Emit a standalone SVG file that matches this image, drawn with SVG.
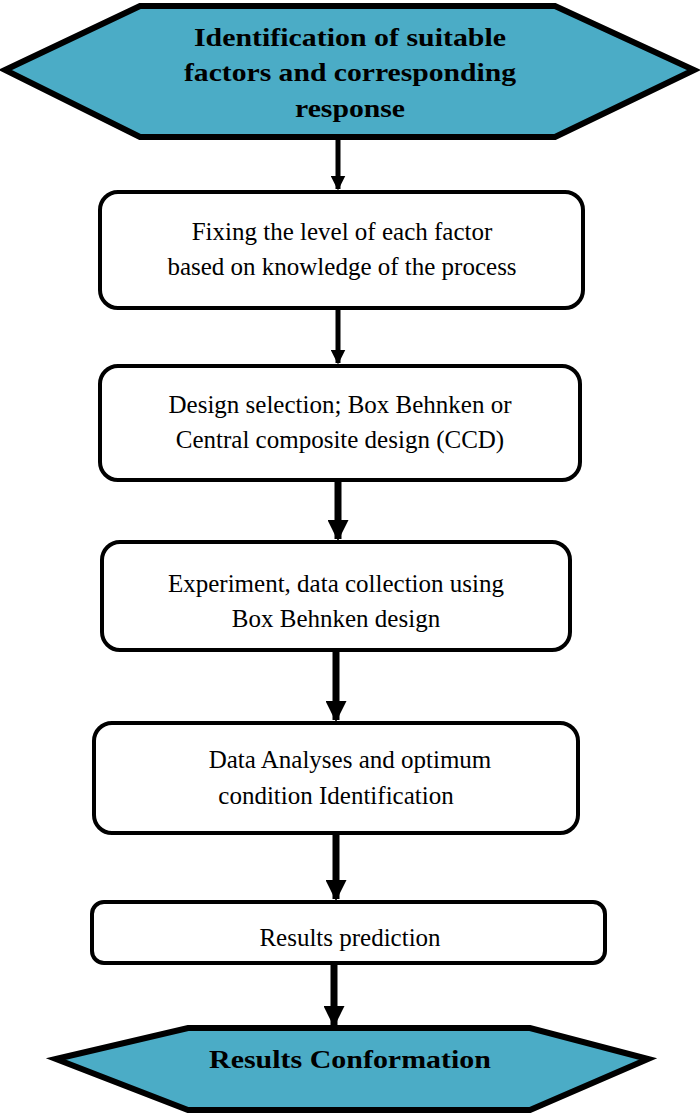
<svg xmlns="http://www.w3.org/2000/svg" width="700" height="1116" viewBox="0 0 700 1116">
<style>
.hex{fill:#4BACC6;stroke:#000;stroke-width:6;stroke-linejoin:miter}
.box{fill:#fff;stroke:#000;stroke-width:4}
.t{font-family:"Liberation Serif",serif;font-size:25px;text-anchor:middle;fill:#000}
.b{font-weight:bold;font-size:26px}
.c{stroke:#000;fill:none}
</style>
<defs><marker id="a" viewBox="0 0 10 10" refX="9" refY="5" markerWidth="3" markerHeight="3" orient="auto" markerUnits="strokeWidth"><path d="M0,0L10,5L0,10z"/></marker></defs>
<g id="n1"><polygon class="hex" points="5,70 140,6 555,6 694,70 555,137 140,137"/>
<text class="t b" x="350" y="46" textLength="312" lengthAdjust="spacingAndGlyphs">Identification of suitable</text>
<text class="t b" x="350" y="81" textLength="332" lengthAdjust="spacingAndGlyphs">factors and corresponding</text>
<text class="t b" x="350" y="117" textLength="110" lengthAdjust="spacingAndGlyphs">response</text></g>
<g id="n2"><rect class="box" x="100" y="192" width="483" height="116" rx="18"/>
<text class="t" x="342" y="240">Fixing the level of each factor</text>
<text class="t" x="342" y="275">based on knowledge of the process</text></g>
<g id="n3"><rect class="box" x="100" y="366" width="480" height="114" rx="18"/>
<text class="t" x="340" y="413">Design selection; Box Behnken or</text>
<text class="t" x="340" y="448">Central composite design (CCD)</text></g>
<g id="n4"><rect class="box" x="102" y="542" width="468" height="108" rx="18"/>
<text class="t" x="336" y="592">Experiment, data collection using</text>
<text class="t" x="336" y="627">Box Behnken design</text></g>
<g id="n5"><rect class="box" x="94" y="723" width="484" height="110" rx="18"/>
<text class="t" x="350" y="768">Data Analyses and optimum</text>
<text class="t" x="336" y="804">condition Identification</text></g>
<g id="n6"><rect class="box" x="92" y="902" width="513" height="61" rx="12"/>
<text class="t" x="350" y="946">Results prediction</text></g>
<g id="n7"><polygon class="hex" points="56,1059 188,1028 530,1028 648,1059 530,1110 188,1110"/>
<text class="t b" x="350" y="1068" textLength="282" lengthAdjust="spacingAndGlyphs">Results Conformation</text></g>
<g id="connectors">
<line class="c" x1="338" y1="140" x2="338" y2="189" stroke-width="5" marker-end="url(#a)"/>
<line class="c" x1="338" y1="310" x2="338" y2="363" stroke-width="5" marker-end="url(#a)"/>
<line class="c" x1="338" y1="482" x2="338" y2="539" stroke-width="7" marker-end="url(#a)"/>
<line class="c" x1="336" y1="652" x2="336" y2="720" stroke-width="7" marker-end="url(#a)"/>
<line class="c" x1="336" y1="835" x2="336" y2="899" stroke-width="7" marker-end="url(#a)"/>
<line class="c" x1="334" y1="965" x2="334" y2="1025" stroke-width="7" marker-end="url(#a)"/>
</g>
</svg>
